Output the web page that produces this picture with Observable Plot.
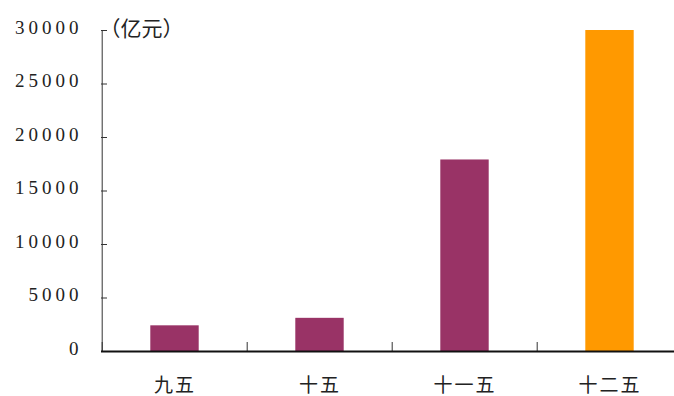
<!DOCTYPE html>
<html>
<head>
<meta charset="utf-8">
<script src="https://cdn.jsdelivr.net/npm/d3@7"></script>
<script src="https://cdn.jsdelivr.net/npm/@observablehq/plot@0.6"></script>
<style>
  html, body { margin: 0; padding: 0; background: #fff; }
  #chart svg { display: block; }
  g[aria-label="y-axis tick label"] text { letter-spacing: 4px; }
  g[aria-label="x-axis tick label"] text { letter-spacing: 2px; }
</style>
</head>
<body>
<div id="chart"></div>
<script>
// Five-year plan periods and investment (亿元)
const periods = ["九五", "十五", "十一五", "十二五"];
const amounts = [2400, 3100, 17900, 30000];
const highlight = [false, false, false, true];
const yTicks = [0, 5000, 10000, 15000, 20000, 25000, 30000];
const unitLabel = "（亿元）";

const rows = periods.map((p, i) => ({period: p, amount: amounts[i], plan: highlight[i]}));

const W = 674, H = 396;
const xRange = [101, 683.4];
const step = (xRange[1] - xRange[0]) / periods.length;
const barWidth = 49;
const inset = (step - barWidth) / 2;

const serif = "'Liberation Serif', 'DejaVu Serif', serif";
const cjk = "'Noto Sans CJK SC', sans-serif";

const chart = Plot.plot({
  width: W,
  height: H,
  marginLeft: 101,
  marginRight: 0,
  marginTop: 30,
  marginBottom: 45,
  style: {background: "#fff", color: "#222"},
  x: {domain: periods, range: xRange, padding: 0, label: null},
  y: {domain: [0, 30000], range: [351, 30], label: null},
  marks: [
    Plot.barY(rows, {
      x: "period", y: "amount",
      fill: d => d.plan ? "#FF9900" : "#993366",
      insetLeft: inset, insetRight: inset
    }),
    // category separators rising from the baseline
    Plot.axisX({ticks: periods, tickSize: -9, tickFormat: () => "", dx: -step / 2, stroke: "#333", label: null}),
    // category labels
    Plot.axisX({
      ticks: periods, tickSize: 0, tickPadding: 27,
      fontSize: 19, fontFamily: cjk, fill: "#222", label: null
    }),
    // value ticks pointing into the plot
    Plot.axisY({ticks: yTicks, tickSize: -6, tickFormat: () => "", stroke: "#333", label: null}),
    Plot.axisY({
      ticks: yTicks, tickSize: 0, tickPadding: 19, dy: -3,
      tickFormat: d => String(d), fontSize: 19, fontFamily: serif, fill: "#222", label: null
    }),
    // axis lines
    Plot.ruleX([periods[0]], {y1: 0, y2: 30000, dx: -step / 2, stroke: "#333", strokeWidth: 1}),
    Plot.ruleY([0], {stroke: "#111", strokeWidth: 2}),
    Plot.text([unitLabel], {
      frameAnchor: "top-left", textAnchor: "start", lineAnchor: "middle",
      dx: -2, dy: -1, fontSize: 21, fontFamily: cjk, fill: "#222"
    })
  ]
});

document.getElementById("chart").appendChild(chart);
</script>
</body>
</html>
